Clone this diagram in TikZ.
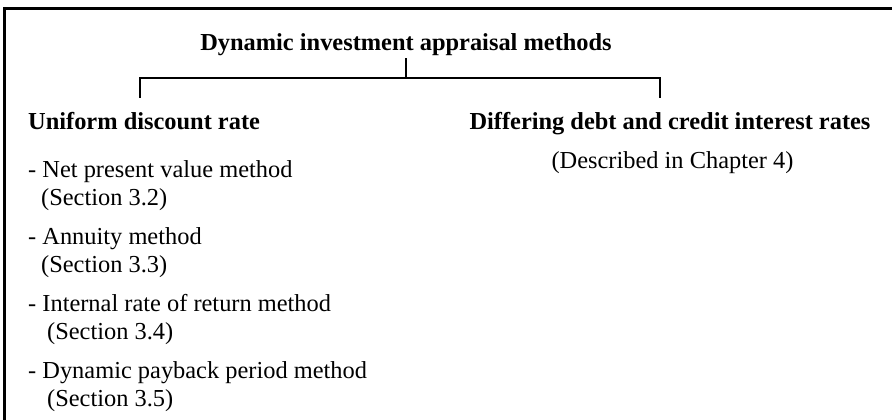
\documentclass[tikz,border=0pt]{standalone}
\usepackage{fontspec}
\setmainfont{Liberation Serif}
\begin{document}
\begin{tikzpicture}[x=1pt,y=-1pt,
  txt/.style={inner sep=0pt, font=\fontsize{24.4}{28}\selectfont},
  head/.style={inner sep=0pt, font=\fontsize{24.4}{28}\selectfont\bfseries},
  link/.style={line width=1.2pt},
  frame/.style={line width=2.6pt}]
\useasboundingbox (0,0) rectangle (892,420);

% frame (top and left edges)
\draw[frame] (892,8.7) -- (4.5,8.7) -- (4.5,420);

% title and branches
\node[head, anchor=base] (title) at (406,51) {Dynamic investment appraisal methods};
\coordinate (fork) at (406,78);
\coordinate (legL) at (140,98);
\coordinate (legR) at (660,98);
\draw[link] ([yshift=-2pt]title.south) -- (fork);
\draw[link] (legL) |- (fork) -| (legR);

% left branch
\node[head, anchor=base west] (uni) at (28,129) {Uniform discount rate};
\node[txt, anchor=base west] (m1) at (28,177) {- Net present value method};
\node[txt, anchor=base west] (s1) at (41,205.5) {(Section 3.2)};
\node[txt, anchor=base west] (m2) at (28,244) {- Annuity method};
\node[txt, anchor=base west] (s2) at (41,272.5) {(Section 3.3)};
\node[txt, anchor=base west] (m3) at (28,311) {- Internal rate of return method};
\node[txt, anchor=base west] (s3) at (47,339.5) {(Section 3.4)};
\node[txt, anchor=base west] (m4) at (28,378) {- Dynamic payback period method};
\node[txt, anchor=base west] (s4) at (47,406.5) {(Section 3.5)};

% right branch
\node[head, anchor=base] (diff) at (670,129) {Differing debt and credit interest rates};
\node[txt, anchor=base] (chap) at (672.5,168) {(Described in Chapter 4)};
\end{tikzpicture}
\end{document}
